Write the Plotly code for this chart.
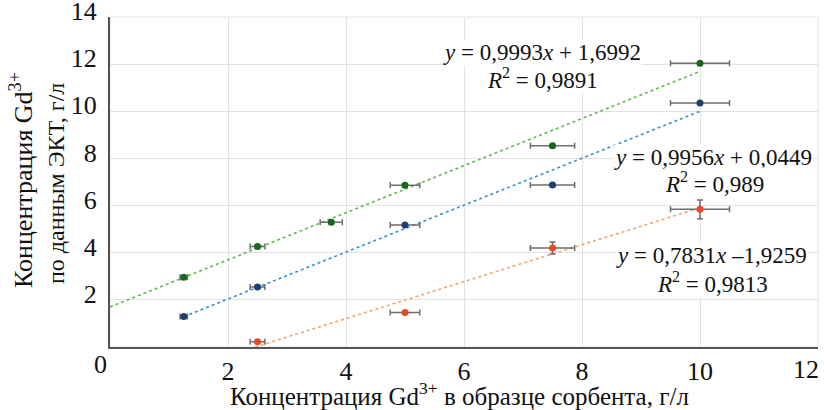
import plotly.graph_objects as go

# ---- data ----
x_green = [1.25, 2.5, 3.75, 5, 7.5, 10]
y_green = [2.96, 4.26, 5.29, 6.86, 8.54, 12.04]
xerr_green = [0.0625, 0.125, 0.1875, 0.25, 0.375, 0.5]
yerr_green = [0.05, 0.05, 0.05, 0.05, 0.05, 0.05]

x_blue = [1.25, 2.5, 5, 7.5, 10]
y_blue = [1.29, 2.55, 5.18, 6.87, 10.35]
xerr_blue = [0.0625, 0.125, 0.25, 0.375, 0.5]
yerr_blue = [0.05, 0.05, 0.05, 0.05, 0.05]

x_orange = [2.5, 5, 7.5, 10]
y_orange = [0.22, 1.46, 4.2, 5.84]
xerr_orange = [0.125, 0.25, 0.375, 0.5]
yerr_orange = [0.06, 0.06, 0.25, 0.4]

# trend lines: slope, intercept, x-range
trend_green = (0.9993, 1.6992, [0, 10])
trend_blue = (0.9956, 0.0449, [1.25, 10])
trend_orange = (0.7831, -1.9259, [2.4593, 10])

x_ticks = [2, 4, 6, 8, 10]
x_last_tick = 12
y_ticks = [2, 4, 6, 8, 10, 12, 14]

FONT = "Liberation Serif"
ERR_COL = "#6e6e6e"

fig = go.Figure()


def add_trend(tr, color):
    k, b, xr = tr
    fig.add_trace(go.Scatter(
        x=xr, y=[k * xr[0] + b, k * xr[1] + b], mode="lines",
        line=dict(color=color, width=1.6, dash="dot"),
        hoverinfo="skip", showlegend=False, cliponaxis=True))


add_trend(trend_green, "#5fb84f")
add_trend(trend_blue, "#3a8fd0")
add_trend(trend_orange, "#f2a46e")


def add_pts(x, y, xe, ye, color):
    fig.add_trace(go.Scatter(
        x=x, y=y, mode="markers",
        marker=dict(color=color, size=7),
        error_x=dict(type="data", array=xe, color=ERR_COL, thickness=1.5, width=3),
        error_y=dict(type="data", array=ye, color=ERR_COL, thickness=1.5, width=3),
        showlegend=False, cliponaxis=False))


add_pts(x_green, y_green, xerr_green, yerr_green, "#1a661d")
add_pts(x_blue, y_blue, xerr_blue, yerr_blue, "#1d4070")
add_pts(x_orange, y_orange, xerr_orange, yerr_orange, "#e84a24")

ann_font = dict(family=FONT, size=23, color="#111")
annotations = [
    dict(x=542, y=52, text="<i>y</i> = 0,9993<i>x</i> + 1,6992"),
    dict(x=542, y=78, text="<i>R</i><sup>2</sup> = 0,9891"),
    dict(x=713, y=157, text="<i>y</i> = 0,9956<i>x</i> + 0,0449"),
    dict(x=714, y=183, text="<i>R</i><sup>2</sup> = 0,989"),
    dict(x=711, y=255, text="<i>y</i> = 0,7831<i>x</i> –1,9259"),
    dict(x=712, y=282, text="<i>R</i><sup>2</sup> = 0,9813"),
]
W, H = 824, 410
anns = []
for a in annotations:
    anns.append(dict(x=a["x"] / W, y=1 - a["y"] / H, xref="paper", yref="paper",
                     text=a["text"], showarrow=False, font=ann_font,
                     bgcolor="white", xanchor="center", yanchor="middle",
                     borderpad=0))
# corner zero
anns.append(dict(x=100 / W, y=1 - 364 / H, xref="paper", yref="paper", text="0",
                 showarrow=False, font=dict(family=FONT, size=26, color="#111"),
                 xanchor="center", yanchor="middle"))
# last x tick label (pulled inside the page edge)
anns.append(dict(x=821 / W, y=1 - 369 / H, xref="paper", yref="paper",
                 text=str(x_last_tick), showarrow=False,
                 font=dict(family=FONT, size=26, color="#111"),
                 xanchor="right", yanchor="middle"))
# y-axis title (two lines)
anns.append(dict(x=21 / W, y=1 - 180 / H, xref="paper", yref="paper",
                 text="Концентрация Gd<sup>3+</sup>", textangle=-90, showarrow=False,
                 font=dict(family=FONT, size=26, color="#111"),
                 xanchor="center", yanchor="middle"))
anns.append(dict(x=56 / W, y=1 - 184 / H, xref="paper", yref="paper",
                 text="по данным ЭКТ, г/л", textangle=-90, showarrow=False,
                 font=dict(family=FONT, size=24, color="#111"),
                 xanchor="center", yanchor="middle"))
# x-axis title
anns.append(dict(x=459 / W, y=1 - 394 / H, xref="paper", yref="paper",
                 text="Концентрация Gd<sup>3+</sup> в образце сорбента, г/л",
                 showarrow=False, font=dict(family=FONT, size=25, color="#111"),
                 xanchor="center", yanchor="middle"))

# convert annotation positions into domain-relative paper coords
ml, mr, mt, mb = 110, 6, 17, 63
pw, ph = W - ml - mr, H - mt - mb
for a in anns:
    px = a["x"] * W
    py = (1 - a["y"]) * H
    a["x"] = (px - ml) / pw
    a["y"] = 1 - (py - mt) / ph

TICK_FONT = dict(family=FONT, size=26, color="#111")
fig.update_layout(
    width=W, height=H,
    margin=dict(l=ml, r=mr, t=mt, b=mb, autoexpand=False),
    plot_bgcolor="white", paper_bgcolor="white",
    font=dict(family=FONT, size=26, color="#111"),
    annotations=anns,
    xaxis=dict(range=[0, 12], tickvals=x_ticks, showgrid=True, gridcolor="#e2e2e2",
               gridwidth=1, zeroline=False, showline=True, linecolor="#555",
               linewidth=2, ticks="", ticklabelstandoff=0, ticklabeloverflow="allow",
               tickfont=TICK_FONT, automargin=False, mirror=False),
    yaxis=dict(range=[0, 14], tickvals=y_ticks, showgrid=True, gridcolor="#e2e2e2",
               gridwidth=1, zeroline=False, showline=True, linecolor="#555",
               linewidth=2, ticks="", ticklabelshift=-6, ticklabelstandoff=6,
               ticklabeloverflow="allow", automargin=False, tickfont=TICK_FONT),
    shapes=[dict(type="rect", xref="paper", yref="paper", x0=0, x1=1, y0=0, y1=1,
                 line=dict(color="#e2e2e2", width=1), layer="below")],
)

fig.write_html("out.html")
